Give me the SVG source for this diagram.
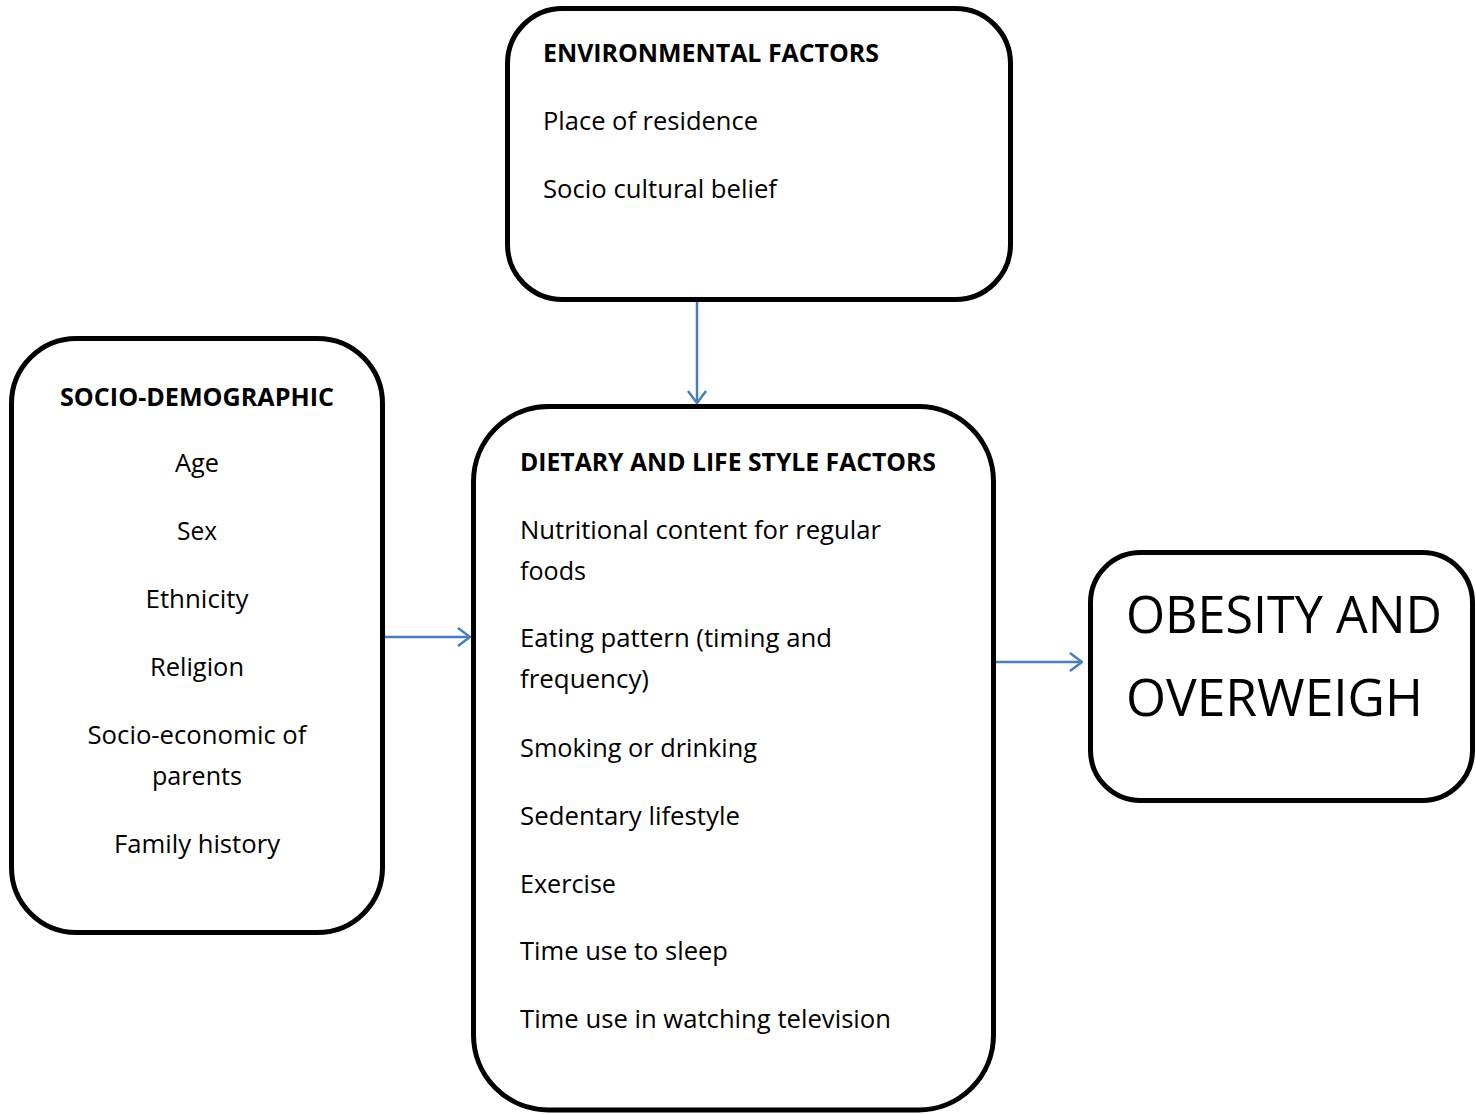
<svg xmlns="http://www.w3.org/2000/svg" width="1476" height="1114" viewBox="0 0 1476 1114">
<defs>
<style>
.box{fill:#fff;stroke:#000;stroke-width:5}
.t{font-family:"Open Sans","Liberation Sans",sans-serif;font-size:25px;fill:#000}
.b{font-weight:bold}
.c{text-anchor:middle}
.big{font-family:"Open Sans","Liberation Sans",sans-serif;font-size:52px;fill:#000}
.con{stroke:#4a7ebb;stroke-width:2.5;fill:none}
</style>
<marker id="ah" markerWidth="14" markerHeight="20" refX="13" refY="10" orient="auto" markerUnits="userSpaceOnUse">
<path d="M1,1 L13,10 L1,19" fill="none" stroke="#4a7ebb" stroke-width="2.5"/>
</marker>
</defs>
<rect width="1476" height="1114" fill="#fff"/>
<g id="connectors">
<line class="con" x1="697" y1="302" x2="697" y2="403" marker-end="url(#ah)"/>
<line class="con" x1="385" y1="637" x2="470" y2="637" marker-end="url(#ah)"/>
<line class="con" x1="996" y1="662" x2="1082" y2="662" marker-end="url(#ah)"/>
</g>
<g id="environmental">
<rect class="box" x="507.5" y="8.5" width="503" height="291" rx="55"/>
<text class="t b" x="543" y="62" textLength="336" lengthAdjust="spacingAndGlyphs">ENVIRONMENTAL FACTORS</text>
<text class="t" x="543" y="130" textLength="215" lengthAdjust="spacingAndGlyphs">Place of residence</text>
<text class="t" x="543" y="198" textLength="234" lengthAdjust="spacingAndGlyphs">Socio cultural belief</text>
</g>
<g id="sociodemographic">
<rect class="box" x="11.5" y="338.5" width="371" height="594" rx="65"/>
<text class="t b c" x="197" y="406" textLength="274" lengthAdjust="spacingAndGlyphs">SOCIO-DEMOGRAPHIC</text>
<text class="t c" x="197" y="472" textLength="44" lengthAdjust="spacingAndGlyphs">Age</text>
<text class="t c" x="197" y="540" textLength="40" lengthAdjust="spacingAndGlyphs">Sex</text>
<text class="t c" x="197" y="608" textLength="103" lengthAdjust="spacingAndGlyphs">Ethnicity</text>
<text class="t c" x="197" y="676" textLength="94" lengthAdjust="spacingAndGlyphs">Religion</text>
<text class="t c" x="197" y="744" textLength="219" lengthAdjust="spacingAndGlyphs">Socio-economic of</text>
<text class="t c" x="197" y="785" textLength="90" lengthAdjust="spacingAndGlyphs">parents</text>
<text class="t c" x="197" y="853" textLength="166" lengthAdjust="spacingAndGlyphs">Family history</text>
</g>
<g id="dietary">
<rect class="box" x="473.5" y="406.5" width="520" height="703.5" rx="75"/>
<text class="t b" x="520" y="471" textLength="416" lengthAdjust="spacingAndGlyphs">DIETARY AND LIFE STYLE FACTORS</text>
<text class="t" x="520" y="539" textLength="361" lengthAdjust="spacingAndGlyphs">Nutritional content for regular</text>
<text class="t" x="520" y="580" textLength="66" lengthAdjust="spacingAndGlyphs">foods</text>
<text class="t" x="520" y="647" textLength="312" lengthAdjust="spacingAndGlyphs">Eating pattern (timing and</text>
<text class="t" x="520" y="688" textLength="129" lengthAdjust="spacingAndGlyphs">frequency)</text>
<text class="t" x="520" y="757" textLength="237" lengthAdjust="spacingAndGlyphs">Smoking or drinking</text>
<text class="t" x="520" y="825" textLength="220" lengthAdjust="spacingAndGlyphs">Sedentary lifestyle</text>
<text class="t" x="520" y="893" textLength="96" lengthAdjust="spacingAndGlyphs">Exercise</text>
<text class="t" x="520" y="960" textLength="208" lengthAdjust="spacingAndGlyphs">Time use to sleep</text>
<text class="t" x="520" y="1028" textLength="371" lengthAdjust="spacingAndGlyphs">Time use in watching television</text>
</g>
<g id="obesity">
<rect class="box" x="1090.5" y="552.5" width="382" height="248" rx="50"/>
<text class="big" x="1126" y="633" textLength="316" lengthAdjust="spacingAndGlyphs">OBESITY AND</text>
<text class="big" x="1126" y="716" textLength="297" lengthAdjust="spacingAndGlyphs">OVERWEIGH</text>
</g>
</svg>
